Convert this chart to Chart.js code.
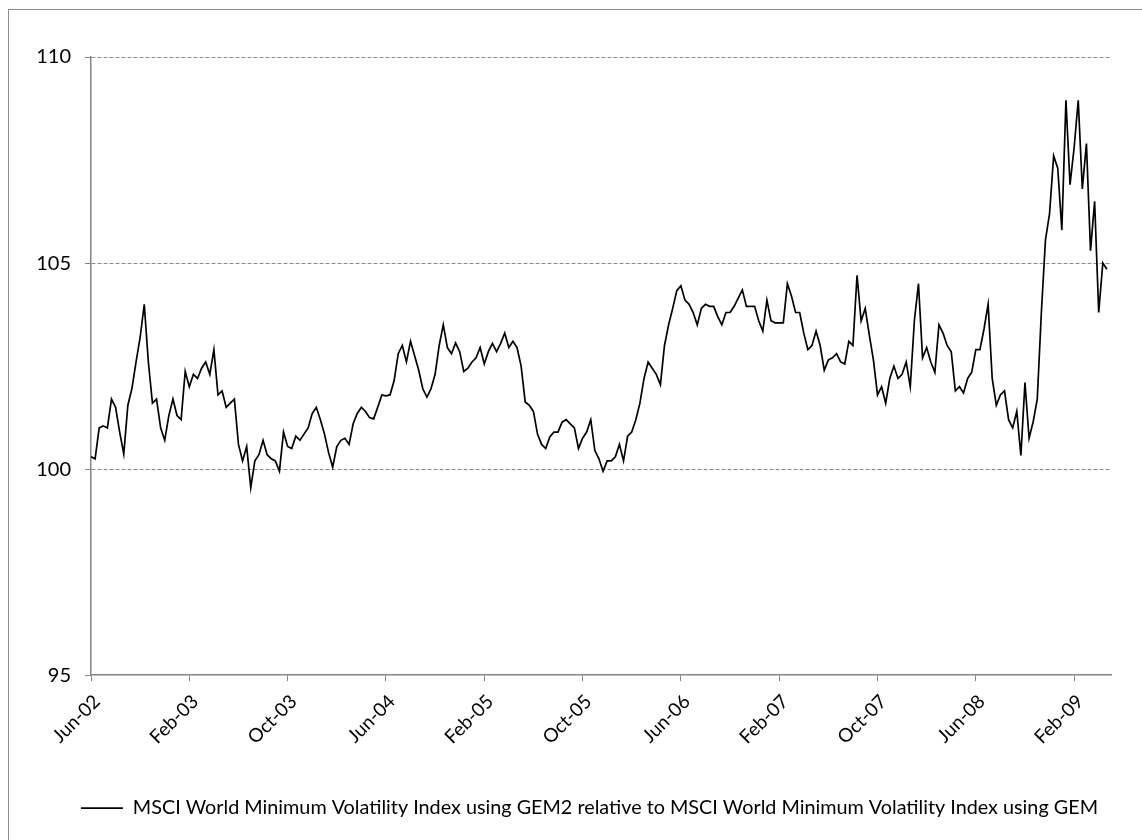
<!DOCTYPE html>
<html>
<head>
<meta charset="utf-8">
<script src="https://cdn.jsdelivr.net/npm/chart.js@4.4.1/dist/chart.umd.min.js"></script>
<style>
  html, body { margin: 0; padding: 0; background: #fff; overflow: hidden; }
  #frame { position: absolute; left: 8px; top: 9px; width: 1300px; height: 1000px; border: 1px solid #8c8c8c; }
  #wrap { position: absolute; left: 0; top: 0; width: 1142px; height: 840px; }
</style>
</head>
<body>
<div id="frame"></div>
<div id="wrap"><canvas id="chart"></canvas></div>
<script>
const seriesName = 'MSCI World Minimum Volatility Index using GEM2 relative to MSCI World Minimum Volatility Index using GEM';

// x axis labels, one every 8 months starting Jun-02
const tickLabels = ['Jun-02', 'Feb-03', 'Oct-03', 'Jun-04', 'Feb-05', 'Oct-05', 'Jun-06', 'Feb-07', 'Oct-07', 'Jun-08', 'Feb-09'];
const monthsPerTick = 8;
const lastMonth = 83;

// one reading every third of a month from Jun-02
const stepMonths = 1 / 3;
const values = [
  100.3, 100.25, 101.0, 101.05, 101.0, 101.7, 101.5, 100.9, 100.37, 101.55,
  101.96, 102.6, 103.2, 104.0, 102.6, 101.6, 101.7, 101.0, 100.7, 101.3,
  101.7, 101.3, 101.2, 102.37, 102.0, 102.3, 102.2, 102.45, 102.6, 102.3,
  102.9, 101.8, 101.9, 101.5, 101.6, 101.7, 100.6, 100.2, 100.55, 99.55,
  100.2, 100.35, 100.7, 100.35, 100.25, 100.2, 99.95, 100.9, 100.55, 100.5,
  100.8, 100.7, 100.85, 101.0, 101.35, 101.5, 101.2, 100.85, 100.4, 100.05,
  100.55, 100.7, 100.75, 100.6, 101.1, 101.35, 101.5, 101.4, 101.25, 101.22,
  101.5, 101.8, 101.78, 101.8, 102.15, 102.8, 103.0, 102.6, 103.1, 102.75,
  102.4, 101.95, 101.75, 101.95, 102.3, 103.0, 103.5, 102.95, 102.8, 103.06,
  102.85, 102.37, 102.45, 102.6, 102.7, 102.95, 102.55, 102.85, 103.05, 102.85,
  103.05, 103.3, 102.95, 103.1, 102.95, 102.5, 101.63, 101.55, 101.4, 100.85,
  100.6, 100.5, 100.78, 100.9, 100.9, 101.14, 101.2, 101.1, 101.0, 100.5,
  100.75, 100.9, 101.2, 100.45, 100.25, 99.95, 100.2, 100.2, 100.3, 100.6,
  100.2, 100.8, 100.9, 101.2, 101.6, 102.2, 102.6, 102.45, 102.3, 102.05,
  103.0, 103.5, 103.9, 104.33, 104.45, 104.1, 104.0, 103.8, 103.5, 103.9,
  104.0, 103.95, 103.95, 103.7, 103.5, 103.8, 103.8, 103.95, 104.15, 104.35,
  103.95, 103.95, 103.95, 103.6, 103.35, 104.1, 103.6, 103.55, 103.55, 103.55,
  104.5, 104.2, 103.8, 103.8, 103.3, 102.9, 103.0, 103.35, 103.0, 102.4,
  102.65, 102.7, 102.8, 102.6, 102.55, 103.1, 103.0, 104.7, 103.6, 103.9,
  103.25, 102.65, 101.8, 102.0, 101.6, 102.2, 102.5, 102.2, 102.3, 102.6,
  102.0, 103.6, 104.5, 102.7, 102.95, 102.6, 102.35, 103.5, 103.3, 103.0,
  102.85, 101.9, 102.0, 101.85, 102.2, 102.35, 102.9, 102.9, 103.4, 104.0,
  102.2, 101.55, 101.8, 101.9, 101.2, 101.0, 101.4, 100.33, 102.1, 100.75,
  101.15, 101.7, 103.8, 105.56, 106.2, 107.6, 107.3, 105.8, 108.95, 106.9,
  107.8, 108.95, 106.8, 107.9, 105.3, 106.5, 103.8, 105.0, 104.85
];

const yMin = 95, yMax = 110, yStep = 5;

const axisGrey = '#868686';
const font = { family: 'Lato', size: 19 };

new Chart(document.getElementById('chart').getContext('2d'), {
  type: 'line',
  data: {
    datasets: [{
      label: seriesName,
      data: values.map((v, i) => ({ x: i * stepMonths, y: v })),
      borderColor: '#000',
      backgroundColor: '#000',
      borderWidth: 1.7,
      pointRadius: 0,
      tension: 0
    }]
  },
  options: {
    responsive: true,
    maintainAspectRatio: false,
    animation: false,
    layout: { padding: { left: 30, right: 31, top: 57, bottom: 12 } },
    plugins: {
      tooltip: { enabled: false },
      legend: {
        position: 'bottom',
        align: 'end',
        labels: {
          color: '#000',
          font: { family: 'Lato', size: 19.8 },
          usePointStyle: true,
          pointStyle: 'line',
          pointStyleWidth: 42,
          padding: 13
        }
      }
    },
    scales: {
      x: {
        type: 'linear',
        min: 0,
        max: lastMonth,
        afterBuildTicks: s => { s.ticks = tickLabels.map((t, i) => ({ value: i * monthsPerTick })); },
        afterFit: s => { s.height = 110; },
        ticks: {
          color: '#000',
          font: font,
          minRotation: 45,
          maxRotation: 45,
          padding: 9,
          labelOffset: 6,
          callback: v => tickLabels[Math.round(v / monthsPerTick)]
        },
        grid: { drawOnChartArea: false, drawTicks: true, tickLength: 6, tickColor: axisGrey },
        border: { color: axisGrey, width: 1.5 }
      },
      y: {
        min: yMin,
        max: yMax,
        afterFit: s => { s.width = 61; },
        ticks: { stepSize: yStep, color: '#000', font: { family: 'Lato', size: 20 }, padding: 14 },
        grid: {
          color: c => c.tick && c.tick.value === yMin ? 'rgba(0,0,0,0)' : '#8c8c8c',
          lineWidth: 1,
          tickLength: 6,
          tickColor: axisGrey
        },
        border: { color: axisGrey, width: 1.5, dash: [4, 2] }
      }
    }
  }
});
</script>
</body>
</html>
